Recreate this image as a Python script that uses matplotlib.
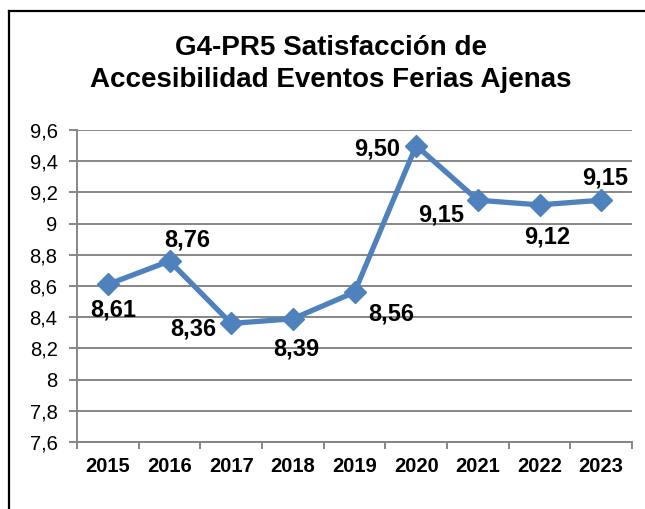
import matplotlib
matplotlib.use("Agg")
import matplotlib.pyplot as plt
from matplotlib.lines import Line2D

years = ["2015", "2016", "2017", "2018", "2019", "2020", "2021", "2022", "2023"]
values = [8.61, 8.76, 8.36, 8.39, 8.56, 9.50, 9.15, 9.12, 9.15]
value_labels = ["8,61", "8,76", "8,36", "8,39", "8,56", "9,50", "9,15", "9,12", "9,15"]
y_ticks = [7.6, 7.8, 8.0, 8.2, 8.4, 8.6, 8.8, 9.0, 9.2, 9.4, 9.6]
y_tick_labels = ["7,6", "7,8", "8", "8,2", "8,4", "8,6", "8,8", "9", "9,2", "9,4", "9,6"]
title = "G4-PR5 Satisfacción de\nAccesibilidad Eventos Ferias Ajenas"

# label offsets in pixels (dx, dy)
label_offsets = [(5, -26), (18, 21), (-38, -6), (3, -30), (37, -22),
                 (-39, -3), (-37, -15), (8, -32), (4, 22)]

plt.rcParams['font.family'] = ['Liberation Sans', 'DejaVu Sans']

W, H = 645, 509
fig = plt.figure(figsize=(W / 100, H / 100), dpi=100)
fig.patch.set_facecolor("white")

ax = fig.add_axes([77 / W, 1 - 442 / H, (632 - 77) / W, (442 - 130) / H])

grid_c = "#868686"
line_c = "#4F81BD"

x = [i + 0.5 for i in range(len(years))]
ax.set_xlim(0, len(years))
ax.set_ylim(7.6, 9.6)

for yv in y_ticks:
    ax.axhline(yv, color=grid_c, lw=1.4, zorder=1)

ax.plot(x, values, color=line_c, lw=3.8, marker="D", markersize=11,
        markerfacecolor=line_c, markeredgecolor=line_c, zorder=3,
        solid_joinstyle="miter")

for xi, v, lab, (dx, dy) in zip(x, values, value_labels, label_offsets):
    ax.annotate(lab, (xi, v), xytext=(dx, dy), textcoords="offset pixels",
                ha="center", va="center", fontsize=17, fontweight="bold",
                color="black", zorder=4)

ax.set_yticks(y_ticks)
ax.set_yticklabels(y_tick_labels)
ax.set_xticks(range(len(years) + 1))
ax.set_xticklabels([])
ax.set_xticks(x, minor=True)
ax.set_xticklabels(years, minor=True, fontweight="bold", fontsize=14.5)
ax.tick_params(axis="x", which="minor", length=0, pad=11)
ax.tick_params(axis="x", which="major", length=5, color=grid_c, width=1.4)
ax.tick_params(axis="y", length=6, color=grid_c, width=1.4, labelsize=14.5, pad=8)

for s in ["top", "right"]:
    ax.spines[s].set_visible(False)
for s in ["left", "bottom"]:
    ax.spines[s].set_color(grid_c)
    ax.spines[s].set_linewidth(1.4)

fig.text(331 / W, 1 - 64 / H, title, ha="center", va="center",
         fontsize=20, fontweight="bold", linespacing=1.27)

# outer frame (top and left edges visible)
fig.add_artist(Line2D([8.5 / W, 8.5 / W], [0, 1 - 11 / H], color="black",
                      lw=1.6, transform=fig.transFigure))
fig.add_artist(Line2D([8.5 / W, 1], [1 - 11 / H, 1 - 11 / H], color="black",
                      lw=1.6, transform=fig.transFigure))

fig.savefig("out.png", dpi=100)
